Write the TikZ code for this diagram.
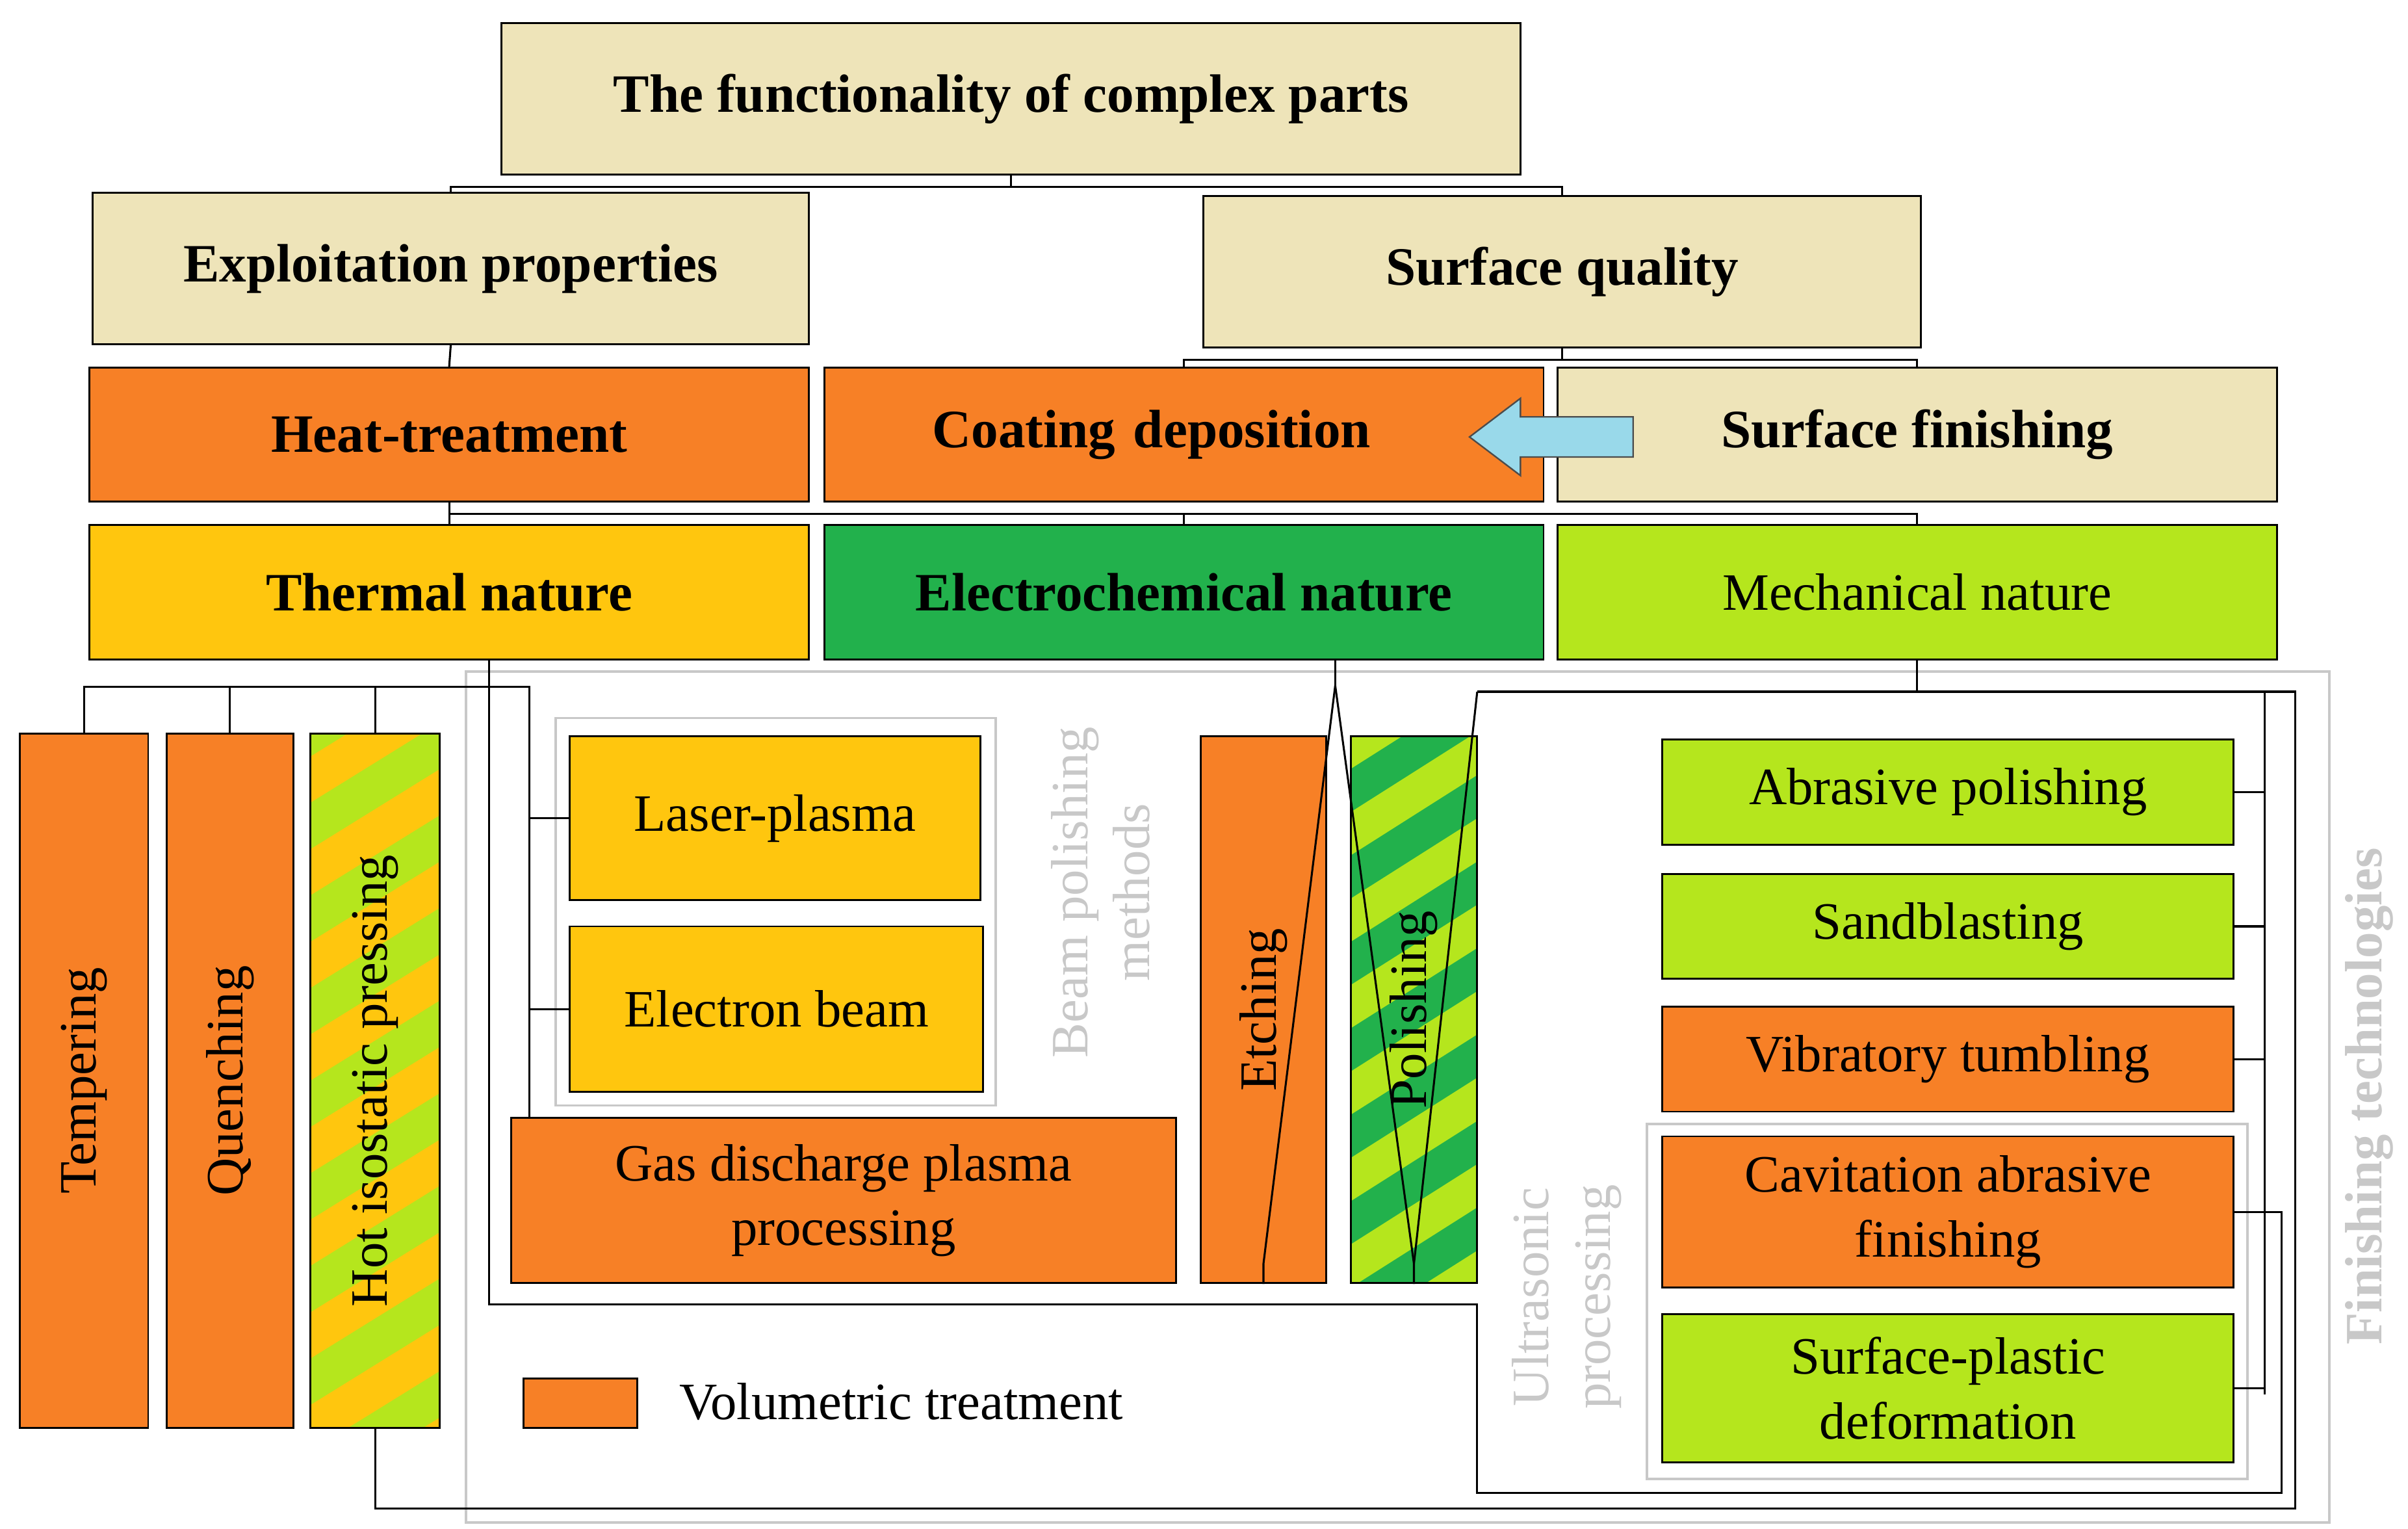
\documentclass[tikz,border=0pt]{standalone}
\usepackage{fontspec}
\setmainfont{Liberation Serif}
\definecolor{cOr}{RGB}{247,128,38}
\definecolor{cYe}{RGB}{255,198,14}
\definecolor{cGr}{RGB}{34,177,76}
\definecolor{cLi}{RGB}{181,230,29}
\definecolor{cBe}{RGB}{238,228,185}
\definecolor{cBl}{RGB}{153,217,234}
\definecolor{cGy}{RGB}{200,200,200}
\begin{document}
\begin{tikzpicture}[x=1pt,y=-1pt,
  box/.style={draw=black,line width=1.2pt,inner sep=0pt,align=center,font=\fontsize{34}{42}\selectfont},
  hdr/.style={box,font=\fontsize{35}{42}\selectfont\bfseries},
  vbox/.style={box,rotate=90},
  ln/.style={line width=1.3pt},
  gbox/.style={draw=cGy,line width=1.5pt},
  gtxt/.style={text=cGy,rotate=90,align=center,font=\fontsize{34}{40}\selectfont}]
\useasboundingbox (0,0) rectangle (1560,990);
% gray groups
\draw[gbox] (302,435) rectangle (1509,986);
\draw[gbox] (360,465) rectangle (645,716);
\draw[gbox] (1067,728) rectangle (1456,958);
\node[gtxt] (tbeam) at (713,578) {Beam polishing\\methods};
\node[gtxt] (tultra) at (1015,840) {Ultrasonic\\processing};
\node[gtxt,font=\fontsize{34}{40}\selectfont\bfseries] (tfin) at (1535,710) {Finishing technologies};
% top levels
\node[hdr,fill=cBe,minimum width=660pt,minimum height=98pt] (title) at (655,64) {The functionality of complex parts};
\node[hdr,fill=cBe,minimum width=464pt,minimum height=98pt] (exploit) at (292,174) {Exploitation properties};
\node[hdr,fill=cBe,minimum width=465pt,minimum height=98pt] (sq) at (1012,176) {Surface quality};
\node[hdr,fill=cOr,minimum width=466pt,minimum height=87pt] (heat) at (291,281.5) {Heat-treatment};
\node[hdr,fill=cOr,minimum width=466pt,minimum height=87pt,text width=466pt,align=left] (coat) at (767,281.5) {\hspace*{70pt}Coating deposition};
\node[hdr,fill=cBe,minimum width=466pt,minimum height=87pt] (sf) at (1242,281.5) {Surface finishing};
\node[hdr,fill=cYe,minimum width=466pt,minimum height=87pt] (thermal) at (291,383.5) {Thermal nature};
\node[hdr,fill=cGr,minimum width=466pt,minimum height=87pt] (electro) at (767,383.5) {Electrochemical nature};
\node[box,fill=cLi,minimum width=466pt,minimum height=87pt] (mech) at (1242,383.5) {Mechanical nature};
% arrow
\filldraw[fill=cBl,draw=black!70,line width=1pt] (1058,270) -- (985,270) -- (985,258) -- (952,283) -- (985,308) -- (985,296) -- (1058,296) -- cycle;
% left column
\node[vbox,fill=cOr,minimum width=450pt,minimum height=83pt] (temp) at (54.5,700) {Tempering};
\node[vbox,fill=cOr,minimum width=450pt,minimum height=82pt] (quen) at (149,700) {Quenching};
\begin{scope}
\clip (201,475) rectangle (285,925);
\fill[cYe] (201,475) rectangle (285,925);
\foreach \k in {0,...,9} {
  \fill[cLi] (201,{460+60*\k}) -- (285,{408+60*\k}) -- (285,{438+60*\k}) -- (201,{490+60*\k}) -- cycle;}
\end{scope}
\node[vbox,minimum width=450pt,minimum height=84pt] (hot) at (243,700) {Hot isostatic pressing};
% beams
\node[box,fill=cYe,minimum width=266pt,minimum height=106pt] (laser) at (502,530) {Laser-plasma};
\node[box,fill=cYe,minimum width=268pt,minimum height=107pt] (eb) at (503,653.5) {Electron beam};
\node[box,fill=cOr,minimum width=431pt,minimum height=107pt] (gas) at (546.5,777.5) {Gas discharge plasma\\processing};
% electrochemical
\node[vbox,fill=cOr,minimum width=354pt,minimum height=81pt] (etch) at (818.5,654) {Etching};
\begin{scope}
\clip (875,477) rectangle (957,831);
\fill[cGr] (875,477) rectangle (957,831);
\foreach \k in {0,...,7} {
  \fill[cLi] (875,{470+56*\k}) -- (957,{418+56*\k}) -- (957,{446+56*\k}) -- (875,{498+56*\k}) -- cycle;}
\end{scope}
\node[vbox,minimum width=354pt,minimum height=82pt] (pol) at (916,654) {Polishing};
% mechanical
\node[box,fill=cLi,minimum width=370pt,minimum height=68pt] (abr) at (1262,513) {Abrasive polishing};
\node[box,fill=cLi,minimum width=370pt,minimum height=68pt] (sand) at (1262,600) {Sandblasting};
\node[box,fill=cOr,minimum width=370pt,minimum height=68pt] (vib) at (1262,686) {Vibratory tumbling};
\node[box,fill=cOr,minimum width=370pt,minimum height=98pt] (cav) at (1262,785) {Cavitation abrasive\\finishing};
\node[box,fill=cLi,minimum width=370pt,minimum height=96pt] (spd) at (1262,899) {Surface-plastic\\deformation};
% legend
\node[box,fill=cOr,minimum width=74pt,minimum height=32pt] (leg) at (376,909) {};
\node[anchor=west,inner sep=0pt,font=\fontsize{34}{40}\selectfont] (legt) at (440,908) {Volumetric treatment};
% connectors
\coordinate (j1) at (655,121);
\draw[ln] (title.south) -- (j1);
\draw[ln] (exploit.north) |- (j1) -| (sq.north);
\draw[ln] (exploit.south) -- (heat.north);
\coordinate (j2) at (1012,233);
\draw[ln] (sq.south) -- (j2);
\draw[ln] (coat.north) |- (j2) -| (sf.north);
\coordinate (j3) at (291,333);
\draw[ln] (heat.south) -- (thermal.north);
\draw[ln] (j3) -| (mech.north);
\draw[ln] (electro.north |- j3) -- (electro.north);
% thermal tree
\coordinate (b1) at (343,445);
\draw[ln] (temp.east) |- (b1) -- (b1 |- gas.north);
\draw[ln] (quen.east) -- (quen.east |- b1);
\draw[ln] (hot.east) -- (hot.east |- b1);
\draw[ln] (b1 |- laser.west) -- (laser.west);
\draw[ln] (b1 |- eb.west) -- (eb.west);
\coordinate (t1) at (317,845);
\coordinate (t2) at (957,845);
\coordinate (t3) at (957,967);
\coordinate (t4) at (1478,967);
\draw[ln] ([xshift=26pt]thermal.south) -- (t1) -- (t2) -- (t3) -- (t4) |- (cav.east);
% electro tree
\coordinate (e0) at (865,444);
\coordinate (m1) at (957,448);
\draw[ln] ([xshift=98pt]electro.south) -- (e0);
\draw[ln] (e0) -- ([yshift=13pt]etch.west) -- (etch.west);
\draw[ln] (e0) -- ([yshift=13pt]pol.west) -- (pol.west);
\draw[ln] ([yshift=13pt]pol.west) -- (m1);
% mechanical tree
\coordinate (m2) at (1487,448);
\coordinate (m3) at (1487,977);
\coordinate (v1) at (1467,448);
\coordinate (v2) at (1467,903);
\draw[ln] (mech.south) -- (mech.south |- m1);
\draw[ln] (m1) -- (m2) -- (m3) -| (hot.west);
\draw[ln] (v1) -- (v2);
\draw[ln] (abr.east) -- (abr.east -| v1);
\draw[ln] (sand.east) -- (sand.east -| v1);
\draw[ln] (vib.east) -- (vib.east -| v1);
\draw[ln] (spd.east) -- (spd.east -| v1);
\end{tikzpicture}
\end{document}
